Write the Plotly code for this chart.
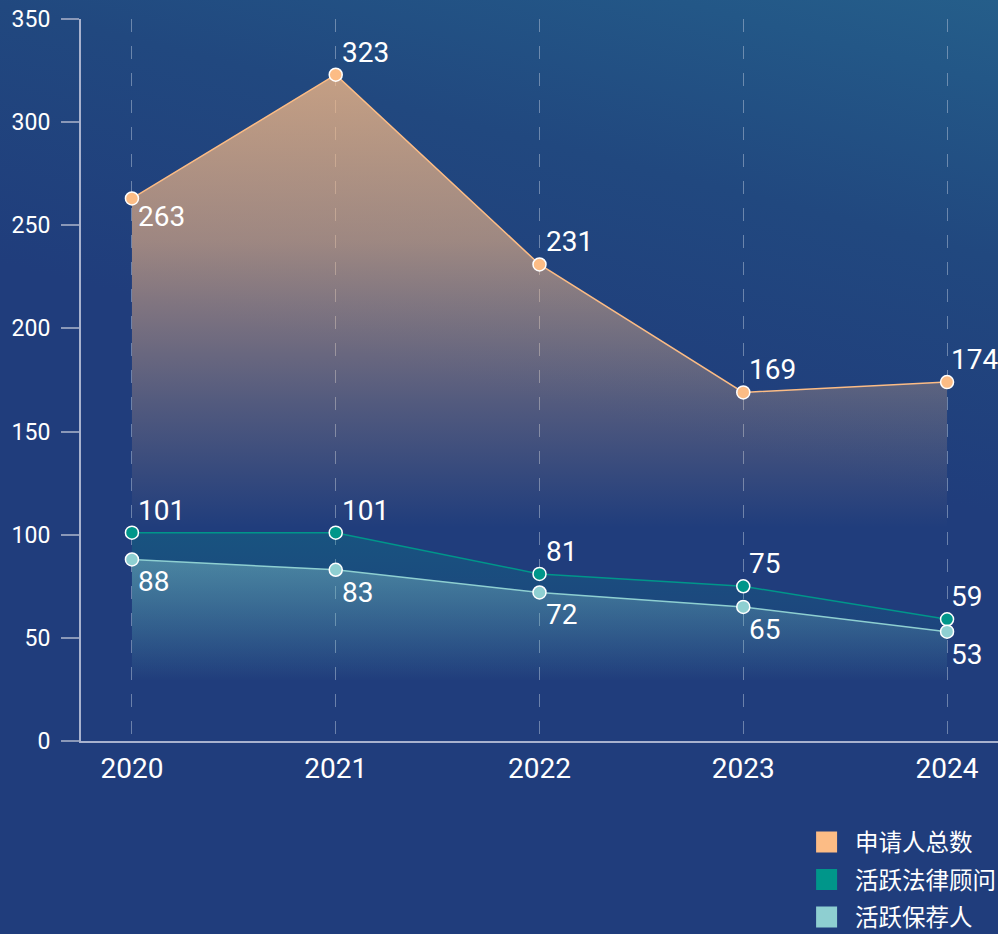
import base64
import plotly.graph_objects as go

years = ["2020", "2021", "2022", "2023", "2024"]
applicants_total = [263, 323, 231, 169, 174]
active_counsel = [101, 101, 81, 75, 59]
active_sponsor = [88, 83, 72, 65, 53]
series_names = ["申请人总数", "活跃法律顾问", "活跃保荐人"]
y_ticks = [0, 50, 100, 150, 200, 250, 300, 350]
# label side for each point: "above" or "below"
applicants_label_side = ["below", "above", "above", "above", "above"]
counsel_label_side = ["above"] * 5
sponsor_label_side = ["below"] * 5

ORANGE = "#fcbc85"
TEAL = "#00968a"
LTEAL = "#8ecfd1"

W, H = 998, 934
ML, MR, MT, MB = 81, 0, 19, 193
PW, PH = W - ML - MR, H - MT - MB

svg = f'''<svg xmlns="http://www.w3.org/2000/svg" width="{W}" height="{H}">
<defs><linearGradient id="g" gradientUnits="userSpaceOnUse" x1="998" y1="0" x2="875" y2="485">
<stop offset="0" stop-color="#255e8a"/>
<stop offset="0.16" stop-color="#235787"/>
<stop offset="0.5" stop-color="#21487f"/>
<stop offset="1" stop-color="#203d7c"/>
</linearGradient></defs>
<rect width="{W}" height="{H}" fill="#203c7c"/>
<rect width="{W}" height="{H}" fill="url(#g)"/>
</svg>'''
bg_uri = "data:image/svg+xml;base64," + base64.b64encode(svg.encode()).decode()


def rgba(hexc, a):
    h = hexc.lstrip("#")
    r, g, b = int(h[0:2], 16), int(h[2:4], 16), int(h[4:6], 16)
    return f"rgba({r},{g},{b},{a})"


fig = go.Figure()

# 申请人总数
fig.add_trace(go.Scatter(
    x=years, y=applicants_total, name=series_names[0], mode="lines+markers",
    line=dict(color=ORANGE, width=1.5),
    marker=dict(size=13, color=ORANGE, line=dict(color="white", width=1.5)),
    fill="tozeroy",
    fillgradient=dict(type="vertical", start=0, stop=323, colorscale=[
        [0, rgba(ORANGE, 0)], [0.32, rgba(ORANGE, 0)], [0.5, rgba(ORANGE, 0.22)],
        [0.63, rgba(ORANGE, 0.40)], [0.75, rgba(ORANGE, 0.57)], [1, rgba(ORANGE, 0.75)]]),
    showlegend=False, legendgroup="a", cliponaxis=False,
))

# 活跃法律顾问
fig.add_trace(go.Scatter(
    x=years, y=active_counsel, name=series_names[1], mode="lines+markers",
    line=dict(color=TEAL, width=1.5),
    marker=dict(size=13, color=TEAL, line=dict(color="white", width=1.5)),
    fill="tozeroy",
    fillgradient=dict(type="vertical", start=0, stop=101, colorscale=[
        [0, rgba(TEAL, 0)], [0.3, rgba(TEAL, 0)], [1, rgba(TEAL, 0.25)]]),
    showlegend=False, legendgroup="b", cliponaxis=False,
))

# 活跃保荐人
fig.add_trace(go.Scatter(
    x=years, y=active_sponsor, name=series_names[2], mode="lines+markers",
    line=dict(color=LTEAL, width=1.5),
    marker=dict(size=13, color=LTEAL, line=dict(color="white", width=1.5)),
    fill="tozeroy",
    fillgradient=dict(type="vertical", start=0, stop=88, colorscale=[
        [0, rgba(LTEAL, 0)], [0.33, rgba(LTEAL, 0)], [1, rgba(LTEAL, 0.42)]]),
    showlegend=False, legendgroup="c", cliponaxis=False,
))

# value labels (x given as category index on the category axis)
annotations = []
for vals, sides, below_shift in [
    (applicants_total, applicants_label_side, -1),
    (active_counsel, counsel_label_side, -5),
    (active_sponsor, sponsor_label_side, -5),
]:
    for i, (v, side) in enumerate(zip(vals, sides)):
        above = side == "above"
        annotations.append(dict(
            x=i, y=v, xref="x", yref="y", text=str(v), showarrow=False,
            xanchor="left", yanchor="bottom" if above else "top",
            xshift=5 if i < len(years) - 1 else 3,
            yshift=5 if above else below_shift, borderpad=0,
            font=dict(family="Roboto, sans-serif", size=28, color="white"),
        ))

# legend swatches
for nm, col, grp in zip(series_names, [ORANGE, TEAL, LTEAL], ["a", "b", "c"]):
    fig.add_trace(go.Scatter(
        x=[None], y=[None], name=nm, mode="markers", legendgroup=grp,
        marker=dict(symbol="square", size=16, color=col, line=dict(color=col, width=5)),
        showlegend=True,
    ))

fig.update_layout(
    width=W, height=H,
    margin=dict(l=ML, r=MR, t=MT, b=MB, autoexpand=False),
    paper_bgcolor="#203c7c",
    plot_bgcolor="rgba(0,0,0,0)",
    font=dict(family="Roboto, Noto Sans CJK SC, sans-serif", color="white"),
    images=[dict(source=bg_uri, xref="paper", yref="paper",
                 x=-ML / PW, y=1 + MT / PH, sizex=W / PW, sizey=H / PH,
                 xanchor="left", yanchor="top", sizing="stretch", layer="below")],
    annotations=annotations,
    xaxis=dict(
        type="category", categoryorder="array", categoryarray=years,
        range=[-0.25, 4.25], showline=True, linecolor="#a8b2ce", linewidth=2,
        showgrid=True, gridcolor="rgba(170,185,210,0.55)", gridwidth=1.2, griddash="13px,14px",
        ticks="", tickfont=dict(size=28, color="white"), ticklabelstandoff=1,
        zeroline=False, fixedrange=True,
    ),
    yaxis=dict(
        range=[0, 350], tickvals=y_ticks, ticktext=[str(v) for v in y_ticks],
        showline=True, linecolor="#a8b2ce", linewidth=2,
        ticks="outside", ticklen=18, tickwidth=2, tickcolor="#8a98b8",
        showgrid=False, zeroline=False,
        tickfont=dict(size=23, color="white"), ticklabelstandoff=6, fixedrange=True,
    ),
    legend=dict(
        x=0.782, y=-0.1096, xanchor="left", yanchor="top", itemwidth=47,
        font=dict(size=23.5, color="white", family="Noto Sans CJK SC, sans-serif"),
        bgcolor="rgba(0,0,0,0)", tracegroupgap=4, itemclick=False, itemdoubleclick=False,
    ),
    showlegend=True,
)

fig.write_html(
    "out.html",
    config={"displayModeBar": False},
    post_script="document.body.style.margin='0';document.body.style.background='#203c7c';",
)
